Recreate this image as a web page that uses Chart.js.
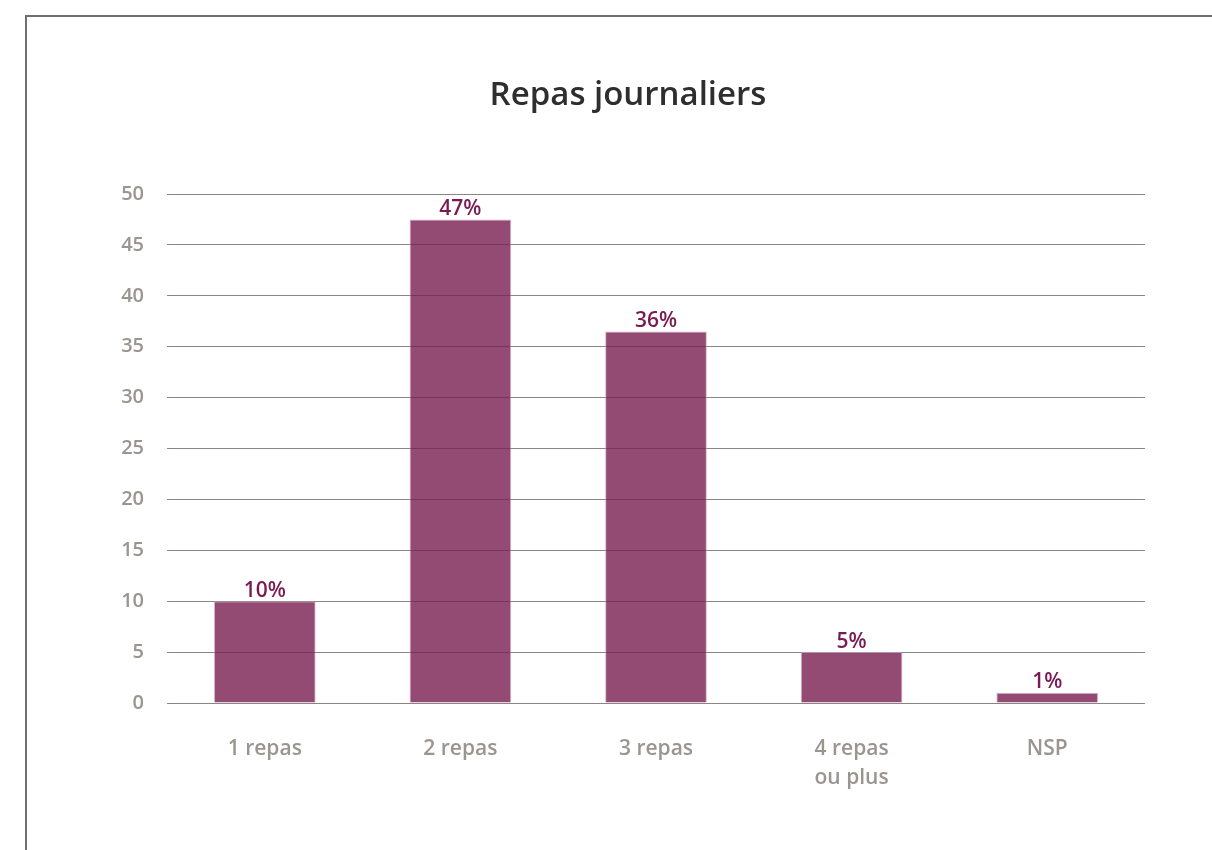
<!DOCTYPE html>
<html>
<head>
<meta charset="utf-8">
<script src="https://cdn.jsdelivr.net/npm/chart.js@4/dist/chart.umd.min.js"></script>
<style>
  html, body { margin: 0; padding: 0; background: #fff; overflow: hidden; }
  #frame {
    position: absolute; left: 25px; top: 15px; width: 1220px; height: 860px;
    border: 2px solid #6e6e6e; box-sizing: border-box;
  }
  #wrap { position: absolute; left: 0; top: 0; width: 1212px; height: 850px; }
</style>
</head>
<body>
<div id="frame"></div>
<div id="wrap"><canvas id="chart" width="1212" height="850"></canvas></div>
<script>
  var chartTitle = "Repas journaliers";
  var categories = ["1 repas", "2 repas", "3 repas", ["4 repas", "ou plus"], "NSP"];
  var values = [10, 47.5, 36.5, 5, 1];
  var valueLabels = ["10%", "47%", "36%", "5%", "1%"];
  var yTicks = [0, 5, 10, 15, 20, 25, 30, 35, 40, 45, 50];

  var FONT = "'Open Sans', 'Noto Sans', sans-serif";

  // title centred on the frame, and the percentage text above each bar
  var barLabels = {
    id: "barLabels",
    afterDraw: function (chart) {
      var ctx = chart.ctx;
      ctx.save();
      ctx.font = "600 33px " + FONT;
      ctx.fillStyle = "#2e2e30";
      ctx.textAlign = "center";
      ctx.textBaseline = "middle";
      ctx.fillText(chartTitle, 628, 96);

      var meta = chart.getDatasetMeta(0);
      ctx.font = "600 21px " + FONT;
      ctx.fillStyle = "#7a1a52";
      ctx.textBaseline = "bottom";
      meta.data.forEach(function (bar, i) {
        ctx.fillText(valueLabels[i], bar.x, bar.y);
      });
      ctx.restore();
    }
  };

  new Chart(document.getElementById("chart"), {
    type: "bar",
    data: {
      labels: categories,
      datasets: [{
        data: values,
        backgroundColor: "rgba(120, 30, 80, 0.8)",
        borderColor: "rgba(200, 150, 185, 0.7)",
        borderWidth: 1,
        categoryPercentage: 1,
        barPercentage: 0.52
      }]
    },
    options: {
      responsive: false,
      animation: false,
      layout: { padding: { left: 0, right: 67, top: 194, bottom: 0 } },
      plugins: {
        legend: { display: false },
        tooltip: { enabled: false },
        title: { display: false }
      },
      scales: {
        x: {
          grid: { display: false, drawTicks: false },
          border: { display: false },
          ticks: {
            color: "#9a958f",
            font: { family: FONT, size: 21, weight: "600", lineHeight: 1.38 },
            padding: 32,
            maxRotation: 0
          },
          afterFit: function (scale) { scale.height = 147; }
        },
        y: {
          min: 0,
          max: 50,
          afterBuildTicks: function (scale) {
            scale.ticks = yTicks.map(function (v) { return { value: v }; });
          },
          grid: { color: "#8a8582", lineWidth: 1, drawTicks: false },
          border: { display: false },
          ticks: {
            color: "#9a958f",
            font: { family: FONT, size: 20, weight: "600" },
            padding: 23
          },
          afterFit: function (scale) { scale.width = 167; }
        }
      }
    },
    plugins: [barLabels]
  });
</script>
</body>
</html>
